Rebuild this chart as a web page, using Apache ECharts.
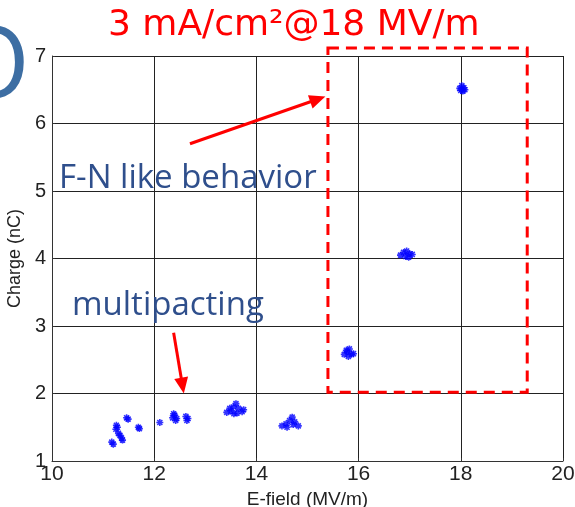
<!DOCTYPE html>
<html>
<head>
<meta charset="utf-8">
<script src="https://cdn.jsdelivr.net/npm/echarts@6/dist/echarts.min.js"></script>
<style>
  html, body { margin: 0; padding: 0; background: #fff; }
  #chart { width: 575px; height: 507px; }
</style>
</head>
<body>
<div id="chart"></div>
<script>
// Axis ticks
var xTicks = [10, 12, 14, 16, 18, 20];
var yTicks = [1, 2, 3, 4, 5, 6, 7];

// Measured (E-field MV/m, charge nC) points, grouped by field level
var group11 = [[11.17,1.28],[11.20,1.25],[11.26,1.53],[11.25,1.47],[11.28,1.50],[11.30,1.41],[11.33,1.38],[11.36,1.34],[11.38,1.31],[11.46,1.64],[11.49,1.62],[11.71,1.48],[11.69,1.50]];
var group12 = [[12.11,1.57],[12.36,1.64],[12.40,1.68],[12.44,1.63],[12.42,1.60],[12.38,1.70],[12.62,1.66],[12.66,1.63],[12.64,1.60]];
var group13 = [[13.42,1.72],[13.50,1.74],[13.55,1.80],[13.60,1.85],[13.65,1.78],[13.72,1.73],[13.48,1.78],[13.62,1.71],[13.75,1.76],[13.56,1.70]];
var group14 = [[14.50,1.52],[14.58,1.55],[14.65,1.60],[14.70,1.65],[14.75,1.58],[14.82,1.52],[14.60,1.50],[14.72,1.54]];
var group15 = [[15.72,2.58],[15.78,2.62],[15.82,2.66],[15.86,2.58],[15.80,2.55],[15.90,2.59],[15.76,2.64]];
var group17 = [[16.82,4.05],[16.88,4.09],[16.94,4.11],[17.00,4.07],[17.05,4.06],[16.92,4.03],[16.98,4.02]];
var group18 = [[17.98,6.52],[18.02,6.56],[18.06,6.53],[18.04,6.48],[18.00,6.49],[18.08,6.50]];

// Highlighted F-N region (data units) and annotation arrows
var fnBox = { x0: 15.4, x1: 19.3, y0: 2.02, y1: 7.12 };
var fnArrow = { from: [12.7, 5.7], to: [15.35, 6.4] };
var mpArrow = { from: [12.38, 2.9], to: [12.58, 2.0] };

var allPoints = [].concat(group11, group12, group13, group14, group15, group17, group18);

var starPath = 'path://M0,-5L0,5M-5,0L5,0M-3.6,-3.6L3.6,3.6M-3.6,3.6L3.6,-3.6';
var axisFont = 'Liberation Sans, Arial, sans-serif';

var chart = echarts.init(document.getElementById('chart'), null, { renderer: 'canvas' });

chart.setOption({
  backgroundColor: '#fff',
  animation: false,
  grid: { left: 52, right: 12, top: 56, bottom: 46, containLabel: false, outerBoundsMode: 'none' },
  xAxis: {
    type: 'value',
    min: xTicks[0], max: xTicks[xTicks.length - 1], interval: 2,
    name: 'E-field (MV/m)', nameLocation: 'middle', nameGap: 29,
    nameTextStyle: { fontFamily: axisFont, fontSize: 19, color: '#222' },
    axisLine: { onZero: false, lineStyle: { color: '#333', width: 1 } },
    axisTick: { inside: true, length: 3, lineStyle: { color: '#333' } },
    axisLabel: { fontFamily: axisFont, fontSize: 21, color: '#222', margin: 3 },
    splitLine: { show: true, lineStyle: { color: '#222', width: 1 } }
  },
  yAxis: {
    type: 'value',
    min: yTicks[0], max: yTicks[yTicks.length - 1], interval: 1,
    name: 'Charge (nC)', nameLocation: 'middle', nameGap: 24, nameRotate: 90,
    nameTextStyle: { fontFamily: axisFont, fontSize: 18, color: '#222' },
    axisLine: { onZero: false, lineStyle: { color: '#333', width: 1 } },
    axisTick: { inside: true, length: 3, lineStyle: { color: '#333' } },
    axisLabel: { fontFamily: axisFont, fontSize: 20, color: '#222', margin: 6 },
    splitLine: { show: true, lineStyle: { color: '#222', width: 1 } }
  },
  series: [{
    type: 'scatter',
    data: allPoints,
    symbol: starPath,
    symbolSize: 7,
    itemStyle: { color: 'rgba(0,0,0,0)', borderColor: '#0000ff', borderWidth: 1.6 },
    z: 5
  }]
});

// Annotation overlays, positioned through the chart's own coordinate system
function px(p) { return chart.convertToPixel({ gridIndex: 0 }, p); }
var b0 = px([fnBox.x0, fnBox.y1]);
var b1 = px([fnBox.x1, fnBox.y0]);
var a0 = px(fnArrow.from), a1 = px(fnArrow.to);
var m0 = px(mpArrow.from), m1 = px(mpArrow.to);

function arrowHead(tip, tail, len, half) {
  var dx = tip[0] - tail[0], dy = tip[1] - tail[1];
  var d = Math.sqrt(dx * dx + dy * dy);
  var ux = dx / d, uy = dy / d;
  var bx = tip[0] - ux * len, by = tip[1] - uy * len;
  return [tip, [bx - uy * half, by + ux * half], [bx + uy * half, by - ux * half]];
}
function shaftEnd(tip, tail, len) {
  var dx = tip[0] - tail[0], dy = tip[1] - tail[1];
  var d = Math.sqrt(dx * dx + dy * dy);
  return [tip[0] - dx / d * len * 0.8, tip[1] - dy / d * len * 0.8];
}
var red = '#ff0000';
var noteBlue = '#2f4f8c';

chart.setOption({
  graphic: [
    {
      type: 'rect',
      shape: { x: b0[0], y: b0[1], width: b1[0] - b0[0], height: b1[1] - b0[1] },
      style: { fill: 'none', stroke: red, lineWidth: 3, lineDash: [11, 7] },
      z: 20
    },
    {
      type: 'line',
      shape: { x1: a0[0], y1: a0[1], x2: shaftEnd(a1, a0, 16)[0], y2: shaftEnd(a1, a0, 16)[1] },
      style: { stroke: red, lineWidth: 3 }, z: 20
    },
    {
      type: 'polygon', shape: { points: arrowHead(a1, a0, 16, 7) },
      style: { fill: red }, z: 20
    },
    {
      type: 'line',
      shape: { x1: m0[0], y1: m0[1], x2: shaftEnd(m1, m0, 16)[0], y2: shaftEnd(m1, m0, 16)[1] },
      style: { stroke: red, lineWidth: 3 }, z: 20
    },
    {
      type: 'polygon', shape: { points: arrowHead(m1, m0, 16, 7) },
      style: { fill: red }, z: 20
    },
    {
      type: 'text', left: 108, top: 8, z: 30,
      style: { text: '3 mA/cm²@18 MV/m', fill: red, fontSize: 36, fontFamily: 'DejaVu Sans, sans-serif' }
    },
    {
      type: 'text', left: 59, top: 162, z: 30,
      style: { text: 'F-N like behavior', fill: noteBlue, fontSize: 33, fontFamily: 'Open Sans, Noto Sans, sans-serif' }
    },
    {
      type: 'text', left: 72, top: 289, z: 30,
      style: { text: 'multipacting', fill: noteBlue, fontSize: 33, fontFamily: 'Open Sans, Noto Sans, sans-serif' }
    },
    {
      type: 'text', left: -48, top: 20, z: 30,
      style: { text: 'O', fill: '#3d6ea3', fontSize: 100, fontFamily: 'Open Sans, Noto Sans, sans-serif' }
    }
  ]
});
</script>
</body>
</html>
